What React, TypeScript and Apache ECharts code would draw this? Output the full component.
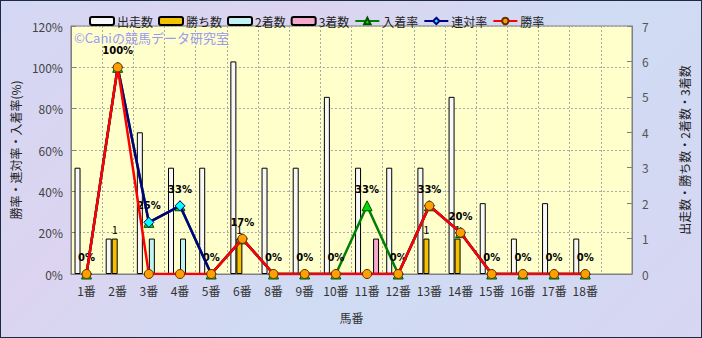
import React, { useEffect, useRef } from "react";
import * as echarts from "echarts";

const categories = ["1番","2番","3番","4番","5番","6番","8番","9番","10番","11番","12番","13番","14番","15番","16番","17番","18番",""];
const runs = [3,1,4,3,3,6,3,3,5,3,3,3,5,2,1,2,1,null];
const wins = [0,1,0,0,0,1,0,0,0,0,0,1,1,0,0,0,0,null];
const seconds = [0,0,1,1,0,0,0,0,0,0,0,0,0,0,0,0,0,null];
const thirds = [0,0,0,0,0,0,0,0,0,1,0,0,0,0,0,0,0,null];
const placeRate = [0,100,25,33,0,17,0,0,0,33,0,33,20,0,0,0,0,null];
const quinellaRate = [0,100,25,33,0,17,0,0,0,0,0,33,20,0,0,0,0,null];
const winRate = [0,100,0,0,0,17,0,0,0,0,0,33,20,0,0,0,0,null];
const leftTicks = [0, 20, 40, 60, 80, 100, 120];
const rightTicks = [0, 1, 2, 3, 4, 5, 6, 7];

const FONT = "'Noto Sans CJK JP', 'Noto Sans', sans-serif";

const barVals = (arr: (number | null)[]) => arr.map((v) => (v === null || v === 0 ? "-" : v));
const lineVals = (arr: (number | null)[]) => arr.map((v) => (v === null ? "-" : v));

export default function App() {
  const ref = useRef<HTMLDivElement>(null);
  useEffect(() => {
    document.body.style.margin = "0";
    const chart = echarts.init(ref.current!, null, { renderer: "svg" });
    const barBase = {
      type: "bar",
      yAxisIndex: 1,
      barWidth: 6,
      barGap: "0%",
    };
    chart.setOption({
      animation: false,
      textStyle: { fontFamily: FONT },
      legend: {
        top: 9,
        left: 83,
        itemWidth: 24,
        itemHeight: 8,
        itemGap: 5,
        textStyle: { fontSize: 12, color: "#222", fontFamily: FONT, padding: [0, 0, 0, -2] },
        data: ["出走数", "勝ち数", "2着数", "3着数", "入着率", "連対率", "勝率"],
      },
      grid: {
        left: 68,
        right: 69,
        top: 25,
        bottom: 63,
        show: true,
        backgroundColor: "#ffffcc",
        borderColor: "#808080",
        borderWidth: 1,
      },
      graphic: [
        {
          type: "text",
          left: 73,
          top: 30,
          style: {
            text: "©Caniの競馬データ研究室",
            fill: "#9a9af0",
            font: `13px ${FONT}`,
          },
          z: 1,
        },
      ],
      xAxis: {
        type: "category",
        data: categories,
        boundaryGap: true,
        name: "馬番",
        nameLocation: "middle",
        nameGap: 37,
        nameTextStyle: { fontSize: 12, color: "#333" },
        axisLine: { lineStyle: { color: "#808080" } },
        axisTick: { show: false },
        axisLabel: { interval: 0, fontSize: 12, color: "#333", margin: 10 },
        splitLine: { show: true, interval: 0, lineStyle: { color: "#a8a8a8", type: [2, 2] } },
      },
      yAxis: [
        {
          type: "value",
          min: leftTicks[0],
          max: leftTicks[leftTicks.length - 1],
          interval: 20,
          name: "勝率・連対率・入着率(%)",
          nameLocation: "middle",
          nameGap: 48,
          nameRotate: 90,
          nameTextStyle: { fontSize: 12, color: "#222" },
          axisLine: { show: true, lineStyle: { color: "#808080" } },
          axisTick: { show: true, inside: true, length: 5, lineStyle: { color: "#808080" } },
          axisLabel: { formatter: "{value}%", fontSize: 12, color: "#444", margin: 8 },
          splitLine: { show: true, lineStyle: { color: "#a8a8a8", type: [2, 2] } },
        },
        {
          type: "value",
          min: rightTicks[0],
          max: rightTicks[rightTicks.length - 1],
          interval: 1,
          position: "right",
          name: "出走数・勝ち数・2着数・3着数",
          nameLocation: "middle",
          nameGap: 46,
          nameRotate: 90,
          nameTextStyle: { fontSize: 12, color: "#222" },
          axisLine: { show: true, lineStyle: { color: "#808080" } },
          axisTick: { show: true, inside: true, length: 5, lineStyle: { color: "#808080" } },
          axisLabel: { fontSize: 12, color: "#555", margin: 10 },
          splitLine: { show: false },
        },
      ],
      series: [
        {
          ...barBase,
          name: "出走数",
          data: barVals(runs),
          itemStyle: { color: "#f8f8f8", borderColor: "#000", borderWidth: 1 },
        },
        {
          ...barBase,
          name: "勝ち数",
          data: barVals(wins),
          itemStyle: { color: "#f5c000", borderColor: "#000", borderWidth: 1 },
          label: {
            show: true,
            position: "top",
            distance: 4,
            fontSize: 11,
            color: "#000",
          },
        },
        {
          ...barBase,
          name: "2着数",
          data: barVals(seconds),
          itemStyle: { color: "#c0f4f4", borderColor: "#000", borderWidth: 1 },
        },
        {
          ...barBase,
          name: "3着数",
          data: barVals(thirds),
          itemStyle: { color: "#f4a8cc", borderColor: "#000", borderWidth: 1 },
        },
        {
          type: "line",
          name: "入着率",
          yAxisIndex: 0,
          data: lineVals(placeRate),
          symbol: "triangle",
          symbolSize: 10,
          lineStyle: { color: "#008000", width: 2.5 },
          itemStyle: { color: "#00dd00", borderColor: "#005000", borderWidth: 1 },
          label: {
            show: true,
            position: "top",
            distance: 6,
            formatter: "{c}%",
            fontSize: 10,
            fontWeight: "bold",
            color: "#000",
            fontFamily: "'DejaVu Sans', sans-serif",
          },
          z: 3,
        },
        {
          type: "line",
          name: "連対率",
          yAxisIndex: 0,
          data: lineVals(quinellaRate),
          symbol: "diamond",
          symbolSize: 10,
          lineStyle: { color: "#000080", width: 2.5 },
          itemStyle: { color: "#00ffff", borderColor: "#000080", borderWidth: 1 },
          z: 4,
        },
        {
          type: "line",
          name: "勝率",
          yAxisIndex: 0,
          data: lineVals(winRate),
          symbol: "circle",
          symbolSize: 9,
          lineStyle: { color: "#ff0000", width: 2.5 },
          itemStyle: { color: "#ffa000", borderColor: "#603000", borderWidth: 1 },
          z: 5,
        },
      ],
    });
    return () => chart.dispose();
  }, []);
  return (
    <div
      style={{
        position: "absolute",
        left: 0,
        top: 0,
        width: 702,
        height: 338,
        boxSizing: "border-box",
        border: "1px solid #1c2a48",
        background: "linear-gradient(135deg, #d4d8f4 0%, #dcd4f0 30%, #cfdcf4 60%, #d8d6f2 100%)",
      }}
    >
      <div ref={ref} style={{ width: 700, height: 336 }} />
    </div>
  );
}
